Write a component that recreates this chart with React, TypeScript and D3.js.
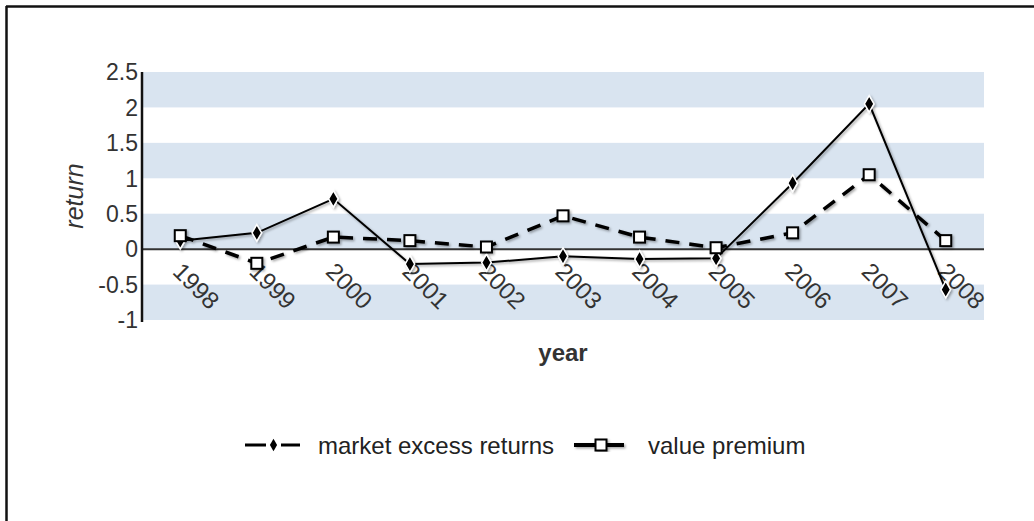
import * as d3 from 'd3';

const years = ['1998', '1999', '2000', '2001', '2002', '2003', '2004', '2005', '2006', '2007', '2008'];
const marketExcess = [0.12, 0.23, 0.71, -0.21, -0.19, -0.1, -0.14, -0.13, 0.93, 2.05, -0.57];
const valuePremium = [0.19, -0.2, 0.17, 0.12, 0.03, 0.47, 0.17, 0.02, 0.23, 1.05, 0.12];
const yTicks = [-1, -0.5, 0, 0.5, 1, 1.5, 2, 2.5];

const W = 1034;
const H = 521;
const plot = { left: 142, right: 984, top: 72, bottom: 320 };
const font = 'Liberation Sans, Arial, sans-serif';

export default function App() {
  const x = d3.scaleBand<string>().domain(years).range([plot.left, plot.right]);
  const cx = (yr: string) => (x(yr) ?? 0) + x.bandwidth() / 2;
  const y = d3.scaleLinear().domain([-1, 2.5]).range([plot.bottom, plot.top]);

  const line = d3
    .line<number>()
    .x((_, i) => cx(years[i]))
    .y((d) => y(d));

  // alternate bands: 2.5-2, 1.5-1, 0.5-0, -0.5 - -1
  const bands = yTicks.slice(0, -1).filter((_, i) => i % 2 === 0);

  const diamond = d3.symbol().type(d3.symbolDiamond).size(80)();

  return (
    <svg width={W} height={H} style={{ position: 'absolute', left: 0, top: 0, background: '#fff' }} fontFamily={font}>
      <defs>
        <filter id="shadow" x="-10%" y="-10%" width="120%" height="120%">
          <feDropShadow dx="1.5" dy="1.5" stdDeviation="1.2" floodColor="#000" floodOpacity="0.35" />
        </filter>
      </defs>

      {/* frame */}
      <line x1={6} y1={6.5} x2={W} y2={6.5} stroke="#111" strokeWidth={2.5} />
      <line x1={6.5} y1={6} x2={6.5} y2={H} stroke="#111" strokeWidth={2.5} />

      {/* bands */}
      {bands.map((b) => (
        <rect
          key={b}
          x={plot.left}
          y={y(b + 0.5)}
          width={plot.right - plot.left}
          height={y(b) - y(b + 0.5)}
          fill="#d9e4f0"
        />
      ))}

      {/* zero line */}
      <line x1={plot.left} x2={plot.right} y1={y(0)} y2={y(0)} stroke="#333" strokeWidth={2} />

      {/* y axis */}
      <line x1={plot.left} x2={plot.left} y1={plot.top} y2={plot.bottom + 2} stroke="#111" strokeWidth={2.5} />
      {yTicks.map((t) => (
        <text key={t} x={plot.left - 4} y={y(t)} dy="0.36em" textAnchor="end" fontSize={23} fill="#333">
          {t}
        </text>
      ))}
      <text
        transform={`translate(83,${(y(1) + y(0.5)) / 2}) rotate(-90)`}
        textAnchor="middle"
        fontSize={25}
        fontStyle="italic"
        fill="#333"
      >
        return
      </text>

      {/* x labels */}
      {years.map((yr) => (
        <text
          key={yr}
          transform={`translate(${cx(yr) + 3},${y(0) + 12}) rotate(45)`}
          dy="0.7em"
          fontSize={24}
          fill="#333"
        >
          {yr}
        </text>
      ))}
      <text x={(plot.left + plot.right) / 2} y={361} textAnchor="middle" fontSize={24} fontWeight="bold" fill="#333">
        year
      </text>

      {/* series */}
      <g filter="url(#shadow)">
        <path d={line(valuePremium) ?? ''} fill="none" stroke="#000" strokeWidth={3.5} strokeDasharray="14 10" />
        <path d={line(marketExcess) ?? ''} fill="none" stroke="#000" strokeWidth={2} />
        {marketExcess.map((v, i) => (
          <path
            key={'m' + i}
            d={diamond ?? ''}
            transform={`translate(${cx(years[i])},${y(v)})`}
            fill="#000"
            stroke="#fff"
            strokeWidth={1.5}
          />
        ))}
        {valuePremium.map((v, i) => (
          <rect
            key={'v' + i}
            x={cx(years[i]) - 5.5}
            y={y(v) - 5.5}
            width={11}
            height={11}
            fill="#fff"
            stroke="#000"
            strokeWidth={2}
          />
        ))}
      </g>

      {/* legend */}
      <g transform="translate(0,445)">
        <line x1={245} x2={266} y1={0} y2={0} stroke="#000" strokeWidth={3} />
        <line x1={281} x2={300} y1={0} y2={0} stroke="#000" strokeWidth={3} />
        <path d={d3.symbol().type(d3.symbolDiamond).size(45)() ?? ''} transform="translate(273.5,0)" fill="#000" />
        <text x={318} y={0} dy="0.36em" fontSize={24} fill="#222">
          market excess returns
        </text>
        <g filter="url(#shadow)">
          <line x1={574} x2={624} y1={0} y2={0} stroke="#000" strokeWidth={4} />
          <rect x={595.5} y={-5.5} width={11} height={11} fill="#fff" stroke="#000" strokeWidth={2} />
        </g>
        <text x={648} y={0} dy="0.36em" fontSize={24} fill="#222">
          value premium
        </text>
      </g>
    </svg>
  );
}
